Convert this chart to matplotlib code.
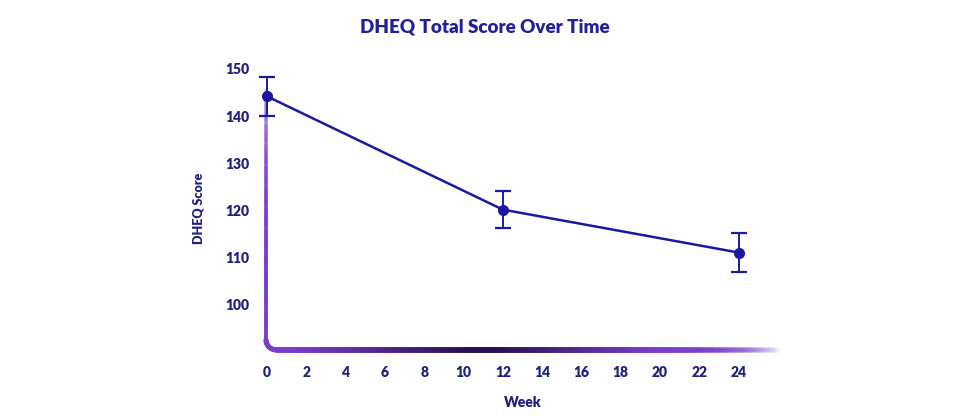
import numpy as np
import matplotlib
matplotlib.use("Agg")
import matplotlib.pyplot as plt
from matplotlib.collections import LineCollection
from matplotlib.colors import to_rgba

weeks = [0, 12, 24]
scores = [144.2, 120.2, 111.1]
errors = [4.2, 4.0, 4.1]
xticks = [0, 2, 4, 6, 8, 10, 12, 14, 16, 18, 20, 22, 24]
yticks = [100, 110, 120, 130, 140, 150]

NAVY = "#1a1aa0"
TXT = "#1f1f80"
plt.rcParams['font.family'] = ['Lato', 'DejaVu Sans']

fig = plt.figure(figsize=(9.7, 4.16), dpi=100)
ax = fig.add_axes([266/970, 1-349.8/416, (780-266)/970, (349.8-66.6)/416])
ax.set_xlim(-0.05, 26.1)
ax.set_ylim(90.5, 150.5)

ax.errorbar(weeks, scores, yerr=errors, color=NAVY, lw=1.8, marker='o', ms=7,
            capsize=6, capthick=1.6, elinewidth=1.4, zorder=5, clip_on=False)

for s in ax.spines.values():
    s.set_visible(False)
ax.set_xticks(xticks)
ax.set_yticks(yticks)
ax.tick_params(length=0, pad=12, labelsize=10, labelcolor=TXT)
for lab in ax.get_xticklabels() + ax.get_yticklabels():
    lab.set_fontweight('heavy')
ax.set_xlabel("Week", fontsize=10, fontweight='heavy', color=TXT, labelpad=12)
ax.set_ylabel("DHEQ Score", fontsize=9, fontweight='heavy', color=TXT, labelpad=15)
fig.text(0.5, 0.935, "DHEQ Total Score Over Time", ha='center', va='center',
         fontsize=13.5, fontweight='heavy', color="#20209a")

# gradient L-shaped axis line with rounded corner (axes coords)
w_px, h_px = 780-266, 349.8-66.6
r = 10
pts = []
top_y = (349.8-90)/h_px
n = 120
for t in np.linspace(top_y, r/h_px, n):
    pts.append((0, t))
for a in np.linspace(np.pi, 1.5*np.pi, 20):
    pts.append(((r + r*np.cos(a))/w_px, (r + r*np.sin(a))/h_px))
for t in np.linspace(r/w_px, 1.0, 300):
    pts.append((t, 0))
pts = np.array(pts)
segs = np.stack([pts[:-1], pts[1:]], axis=1)
purple = np.array(to_rgba("#7a3ccc"))
dark = np.array(to_rgba("#24104f"))
cols, lws = [], []
nv = n - 1
for i in range(len(segs)):
    if i < nv:
        f = i / nv
        c = purple.copy(); c[3] = 0.25 + 0.75*min(1, f*1.6)
        cols.append(c); lws.append(2.6)
    elif i < nv + 20:
        cols.append(purple); lws.append(3.5)
    else:
        x = segs[i][0][0]
        if x < 0.45:
            k = np.clip((x-0.05)/0.35, 0, 1)
            c = purple*(1-k) + dark*k
        elif x < 0.75:
            k = (x-0.45)/0.3
            c = dark*(1-k) + purple*k
        else:
            c = purple.copy()
            c[3] = max(0, 1 - (x-0.75)/0.25)
        cols.append(c); lws.append(4)
lc = LineCollection(segs, colors=cols, linewidths=lws, transform=ax.transAxes,
                    clip_on=False, capstyle='round', zorder=2)
ax.add_collection(lc)

fig.savefig("out.png", dpi=100)
